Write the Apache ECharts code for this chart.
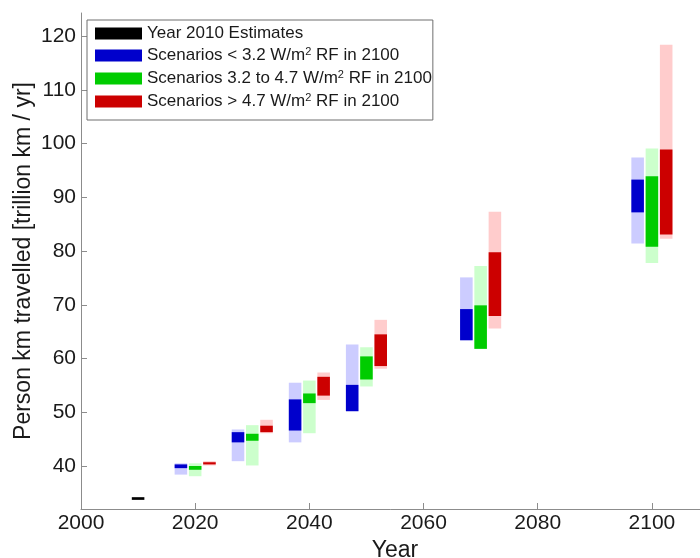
<!DOCTYPE html>
<html>
<head>
<meta charset="utf-8">
<script src="https://cdn.jsdelivr.net/npm/echarts@6/dist/echarts.min.js"></script>
<style>
html,body{margin:0;padding:0;background:#fff;}
#chart{width:700px;height:558px;}
</style>
</head>
<body>
<div id="chart"></div>
<script>
// ---- data ----
const years = [2020, 2030, 2040, 2050, 2070, 2100];
const baseYear = [2010];
const baseLow = [33.7];
const baseHigh = [34.2];

const lowLightMin = [38.4, 40.9, 44.4, 50.2, 63.4, 81.4];
const lowLightMax = [40.5, 46.8, 55.5, 62.6, 75.1, 97.4];
const lowDarkMin  = [39.6, 44.4, 46.6, 50.2, 63.4, 87.2];
const lowDarkMax  = [40.3, 46.3, 52.4, 55.1, 69.2, 93.3];

const midLightMin = [38.1, 40.1, 46.1, 54.8, 61.8, 77.8];
const midLightMax = [40.5, 47.6, 55.9, 62.1, 77.2, 99.1];
const midDarkMin  = [39.3, 44.7, 51.7, 56.1, 61.8, 80.8];
const midDarkMax  = [40.0, 46.0, 53.5, 60.4, 69.9, 93.9];

const highLightMin = [40.1, 46.1, 52.3, 58.1, 65.6, 82.3];
const highLightMax = [40.9, 48.6, 57.4, 67.2, 87.3, 118.4];
const highDarkMin  = [40.3, 46.3, 53.1, 58.6, 67.9, 83.1];
const highDarkMax  = [40.7, 47.5, 56.6, 64.5, 79.8, 98.9];

const xTicks = [2000, 2020, 2040, 2060, 2080, 2100];
const yTicks = [40, 50, 60, 70, 80, 90, 100, 110, 120];

const seriesNames = [
  'Year 2010 Estimates',
  'Scenarios < 3.2 W/m2 RF in 2100',
  'Scenarios 3.2 to 4.7 W/m2 RF in 2100',
  'Scenarios > 4.7 W/m2 RF in 2100'
];

// ---- build ----
function rows(xs, a, b, c, d) {
  return xs.map((x, i) => [x, a[i], b[i], c[i], d[i]]);
}
const BAR_W = 2.2;
function makeRender(offset, light, dark) {
  return function (params, api) {
    const x = api.value(0) + offset;
    const children = [];
    if (light) {
      const p1 = api.coord([x - BAR_W / 2, api.value(2)]);
      const p2 = api.coord([x + BAR_W / 2, api.value(1)]);
      children.push({type: 'rect', shape: {x: p1[0], y: p1[1], width: p2[0] - p1[0], height: p2[1] - p1[1]}, style: {fill: light}});
    }
    const q1 = api.coord([x - BAR_W / 2, api.value(4)]);
    const q2 = api.coord([x + BAR_W / 2, api.value(3)]);
    children.push({type: 'rect', shape: {x: q1[0], y: q1[1], width: q2[0] - q1[0], height: Math.max(q2[1] - q1[1], 1)}, style: {fill: dark}});
    return {type: 'group', children: children};
  };
}

const chart = echarts.init(document.getElementById('chart'), null, {renderer: 'canvas'});
const FONT = 'Liberation Sans, Arial, sans-serif';

function legendFmt(name) {
  const i = name.indexOf('W/m2');
  if (i < 0) return '{t|' + name + '}';
  return '{t|' + name.slice(0, i + 3) + '}{s|2}{t|' + name.slice(i + 4) + '}';
}

chart.setOption({
  animation: false,
  backgroundColor: '#fff',
  grid: {left: 81, top: 13, width: 628, height: 496, containLabel: false, outerBoundsMode: 'none'},
  legend: {
    orient: 'vertical',
    left: 87, top: 20,
    padding: [5, 1, 9, 8],
    itemWidth: 47, itemHeight: 12, itemGap: 4,
    icon: 'rect',
    borderColor: '#6e6e6e', borderWidth: 1,
    backgroundColor: '#fff',
    selectedMode: false,
    data: seriesNames,
    formatter: legendFmt,
    textStyle: {
      fontFamily: FONT, fontSize: 17, color: '#1a1a1a',
      rich: {
        t: {fontFamily: FONT, fontSize: 17, color: '#1a1a1a', lineHeight: 18},
        s: {fontFamily: FONT, fontSize: 11, color: '#1a1a1a', lineHeight: 18, padding: [0, 0, 8, 0]}
      }
    }
  },
  xAxis: {
    type: 'value', min: 2000, max: 2110, interval: 20,
    name: 'Year', nameLocation: 'middle', nameGap: 30, nameMoveOverlap: false,
    nameTextStyle: {fontFamily: FONT, fontSize: 23, color: '#1a1a1a'},
    axisLine: {show: true, lineStyle: {color: '#8c8c8c', width: 1}},
    axisTick: {show: true, inside: true, length: 6, lineStyle: {color: '#8c8c8c'}, customValues: xTicks},
    axisLabel: {fontFamily: FONT, fontSize: 21, color: '#1a1a1a', margin: 4, customValues: xTicks, formatter: v => String(v)},
    splitLine: {show: false}
  },
  yAxis: {
    type: 'value', min: 32, max: 124.3,
    name: 'Person km travelled [trillion km / yr]', nameLocation: 'middle', nameGap: 46, nameMoveOverlap: false,
    nameTextStyle: {fontFamily: FONT, fontSize: 23, color: '#1a1a1a'},
    axisLine: {show: true, lineStyle: {color: '#8c8c8c', width: 1}},
    axisTick: {show: true, inside: true, length: 6, lineStyle: {color: '#8c8c8c'}, customValues: yTicks},
    axisLabel: {fontFamily: FONT, fontSize: 21, color: '#1a1a1a', margin: 5, customValues: yTicks, formatter: v => String(v)},
    splitLine: {show: false}
  },
  series: [
    {
      name: seriesNames[0], type: 'custom', itemStyle: {color: '#000000'},
      renderItem: makeRender(0, null, '#000000'),
      encode: {x: 0, y: [1, 2]},
      data: baseYear.map((x, i) => [x, baseLow[i], baseHigh[i], baseLow[i], baseHigh[i]])
    },
    {
      name: seriesNames[1], type: 'custom', itemStyle: {color: '#0000cc'},
      renderItem: makeRender(-2.5, '#ccccff', '#0000cc'),
      encode: {x: 0, y: [1, 2]},
      data: rows(years, lowLightMin, lowLightMax, lowDarkMin, lowDarkMax)
    },
    {
      name: seriesNames[2], type: 'custom', itemStyle: {color: '#00cc00'},
      renderItem: makeRender(0, '#ccffcc', '#00cc00'),
      encode: {x: 0, y: [1, 2]},
      data: rows(years, midLightMin, midLightMax, midDarkMin, midDarkMax)
    },
    {
      name: seriesNames[3], type: 'custom', itemStyle: {color: '#cc0000'},
      renderItem: makeRender(2.5, '#ffcccc', '#cc0000'),
      encode: {x: 0, y: [1, 2]},
      data: rows(years, highLightMin, highLightMax, highDarkMin, highDarkMax)
    }
  ]
});
</script>
</body>
</html>
